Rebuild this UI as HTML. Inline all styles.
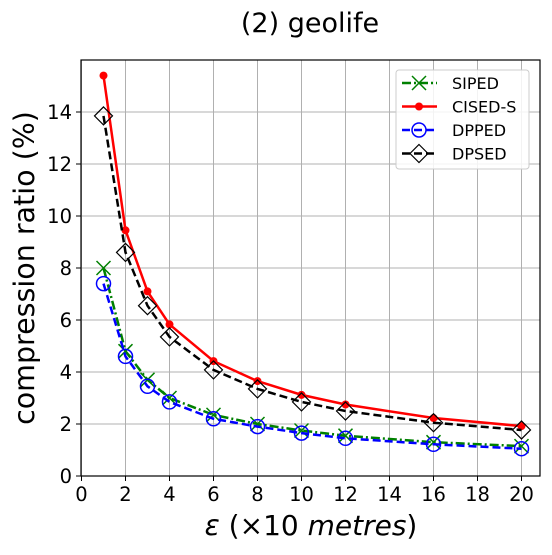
<!DOCTYPE html>
<html><head><meta charset="utf-8"><style>
body{margin:0;background:#fff;}
svg{font-family:"DejaVu Sans","Liberation Sans",sans-serif;}
</style></head><body>
<svg id="chart" width="552" height="550" viewBox="0 0 552 550">
<text x="310" y="32" font-size="27" text-anchor="middle">(2) geolife</text>
<g id="grid"></g>
<g id="series"></g>
<rect x="81" y="60" width="459" height="416" fill="none" stroke="#000" stroke-width="1.2"/>
<g id="ticks"></g>
<text x="311" y="535" font-size="28" text-anchor="middle"><tspan font-style="italic">ε</tspan> (×10 <tspan font-style="italic">metres</tspan>)</text>
<text transform="translate(34,268) rotate(-90)" font-size="28.5" text-anchor="middle">compression ratio (%)</text>
<g id="legend"></g>
</svg>
<script>
const xs = [1,2,3,4,6,8,10,12,16,20];
const siped = [8.0,4.8,3.7,3.0,2.35,2.0,1.75,1.55,1.3,1.15];
const cised = [15.4,9.45,7.1,5.83,4.42,3.65,3.12,2.75,2.23,1.92];
const dpped = [7.4,4.6,3.45,2.85,2.2,1.9,1.65,1.45,1.22,1.05];
const dpsed = [13.85,8.6,6.55,5.35,4.08,3.35,2.85,2.5,2.05,1.77];
const xTicks = [0,2,4,6,8,10,12,14,16,18,20];
const yTicks = [0,2,4,6,8,10,12,14];
const NS="http://www.w3.org/2000/svg";
const X=v=>81.5+v*22, Y=v=>476-v*26;
function mk(t,a,p){const e=document.createElementNS(NS,t);for(const k in a)e.setAttribute(k,a[k]);p.appendChild(e);return e;}
const grid=document.getElementById('grid'),ticks=document.getElementById('ticks'),ser=document.getElementById('series'),leg=document.getElementById('legend');
xTicks.forEach(v=>{
 const g=mk('line',{x1:X(v),x2:X(v),y1:60,y2:476,stroke:'#b0b0b0','stroke-width':1},grid);
 
 
 const t=mk('line',{x1:X(v),x2:X(v),y1:476,y2:481,stroke:'#000'},ticks);
 
 
 const l=mk('text',{x:X(v),y:501,'font-size':19.5,'text-anchor':'middle'},ticks);l.textContent=v;
 
 
});
yTicks.forEach(v=>{
 const g=mk('line',{x1:81,x2:540,y1:Y(v),y2:Y(v),stroke:'#b0b0b0','stroke-width':1},grid);
 
 
 const t=mk('line',{x1:76,x2:81,y1:Y(v),y2:Y(v),stroke:'#000'},ticks);
 
 
 const l=mk('text',{x:72,y:Y(v)+7,'font-size':19.5,'text-anchor':'end'},ticks);l.textContent=v;
 
 
});
function marker(kind,cx,cy,color,p){
 if(kind==='x'){mk('path',{d:`M${cx-7} ${cy-7}L${cx+7} ${cy+7}M${cx-7} ${cy+7}L${cx+7} ${cy-7}`,stroke:color,'stroke-width':1.5,fill:'none'},p);}
 else if(kind==='dot'){mk('circle',{cx,cy,r:4,fill:color},p);}
 else if(kind==='o'){mk('circle',{cx,cy,r:7,fill:'none',stroke:color,'stroke-width':1.5},p);}
 else {mk('path',{d:`M${cx} ${cy-9}L${cx+9} ${cy}L${cx} ${cy+9}L${cx-9} ${cy}Z`,fill:'none',stroke:color,'stroke-width':1.2},p);}
}
const defs=[
 {name:'SIPED',data:siped,color:'green',dash:'9,3,2,3',m:'x'},
 {name:'CISED-S',data:cised,color:'red',dash:'',m:'dot'},
 {name:'DPPED',data:dpped,color:'blue',dash:'8,4',m:'o'},
 {name:'DPSED',data:dpsed,color:'black',dash:'8,4',m:'d'}];
const order=[1,3,0,2];
order.forEach(i=>{const s=defs[i];
 const g=mk('g',{},ser);
 
 
 mk('polyline',{points:xs.map((x,j)=>X(x)+','+Y(s.data[j])).join(' '),fill:'none',stroke:s.color,'stroke-width':2.5,'stroke-dasharray':s.dash},g);
 xs.forEach((x,j)=>marker(s.m,X(x),Y(s.data[j]),s.color,g));
});
mk('rect',{x:396,y:70,width:133,height:99,rx:3,fill:'#fff','fill-opacity':0.85,stroke:'#ccc'},leg);
defs.forEach((s,i)=>{const y=83+i*23.5;
 const e=mk('g',{},leg);
 
 
 mk('line',{x1:402,x2:437,y1:y,y2:y,stroke:s.color,'stroke-width':2.5,'stroke-dasharray':s.dash},e);
 marker(s.m,419,y,s.color,e);
 const t=mk('text',{x:452,y:y+6,'font-size':16},e);t.textContent=s.name;
});
</script>
</body></html>
